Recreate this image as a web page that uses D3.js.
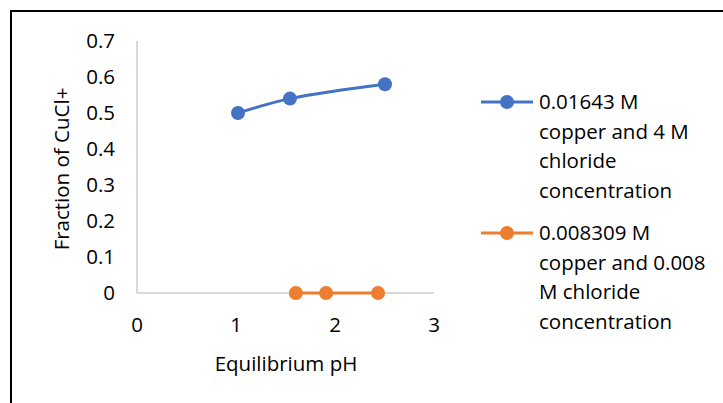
<!DOCTYPE html>
<html><head><meta charset="utf-8">
<script src="https://cdn.jsdelivr.net/npm/d3@7"></script>
<style>body{margin:0;background:#fff}svg{display:block}text{font-family:"Open Sans",Lato,sans-serif;fill:#000}</style>
</head><body><svg id="c" width="723" height="403"></svg>
<script>
const seriesNames = [
  ["0.01643 M","copper and 4 M","chloride","concentration"],
  ["0.008309 M","copper and 0.008","M chloride","concentration"]
];
const seriesColors = ["#4472C4","#ED7D31"];
const phA = [1.02, 1.545, 2.505];
const fracA = [0.50, 0.54, 0.58];
const phB = [1.605, 1.91, 2.435];
const fracB = [0, 0, 0];
const xTicks = [0,1,2,3];
const yTicks = [0,0.1,0.2,0.3,0.4,0.5,0.6,0.7];

const FS = 20.5;
const svg = d3.select("#c");
// outer frame
svg.append("path").attr("d","M11,403V11H723").attr("fill","none").attr("stroke","#000").attr("stroke-width",2);

const x = d3.scaleLinear().domain([0,3]).range([137,434]);
const y = d3.scaleLinear().domain([0,0.7]).range([293,41]);

// axes lines
svg.append("line").attr("x1",x(0)).attr("x2",x(3)).attr("y1",y(0)).attr("y2",y(0)).attr("stroke","#D9D9D9").attr("stroke-width",2);
svg.append("line").attr("x1",x(0)).attr("x2",x(0)).attr("y1",y(0)).attr("y2",y(0.7)).attr("stroke","#D9D9D9").attr("stroke-width",2);

svg.selectAll(".yt").data(yTicks).enter().append("text")
  .attr("x",115).attr("y",d=>y(d)).attr("dy","0.35em").attr("text-anchor","end")
  .attr("font-size",FS).text(d=>d===0?"0":d.toFixed(1));
svg.selectAll(".xt").data(xTicks).enter().append("text")
  .attr("x",d=>x(d)).attr("y",325).attr("dy","0.35em").attr("text-anchor","middle")
  .attr("font-size",FS).text(d=>d);

svg.append("text").attr("x",286).attr("y",364).attr("dy","0.35em").attr("text-anchor","middle")
  .attr("font-size",FS).text("Equilibrium pH");
svg.append("text").attr("transform","translate(62,169) rotate(-90)").attr("dy","0.35em").attr("text-anchor","middle")
  .attr("font-size",FS).text("Fraction of CuCl+");

const data = [phA.map((p,i)=>[p,fracA[i]]), phB.map((p,i)=>[p,fracB[i]])];
const curves = [d3.curveCatmullRom.alpha(0.5), d3.curveLinear];
data.forEach((s,k)=>{
  const line = d3.line().x(d=>x(d[0])).y(d=>y(d[1])).curve(curves[k]);
  svg.append("path").attr("d",line(s)).attr("fill","none").attr("stroke",seriesColors[k]).attr("stroke-width",3);
  svg.selectAll(".p"+k).data(s).enter().append("circle")
    .attr("cx",d=>x(d[0])).attr("cy",d=>y(d[1])).attr("r",7).attr("fill",seriesColors[k]);
});

// legend
const legY = [102, 233];
seriesNames.forEach((lines,k)=>{
  const g = svg.append("g");
  g.append("line").attr("x1",481).attr("x2",533).attr("y1",legY[k]).attr("y2",legY[k]).attr("stroke",seriesColors[k]).attr("stroke-width",3);
  g.append("circle").attr("cx",507).attr("cy",legY[k]).attr("r",7).attr("fill",seriesColors[k]);
  lines.forEach((t,i)=>{
    g.append("text").attr("x",539).attr("y",legY[k]+i*29.6).attr("dy","0.35em").attr("font-size",FS).text(t);
  });
});
</script></body></html>
